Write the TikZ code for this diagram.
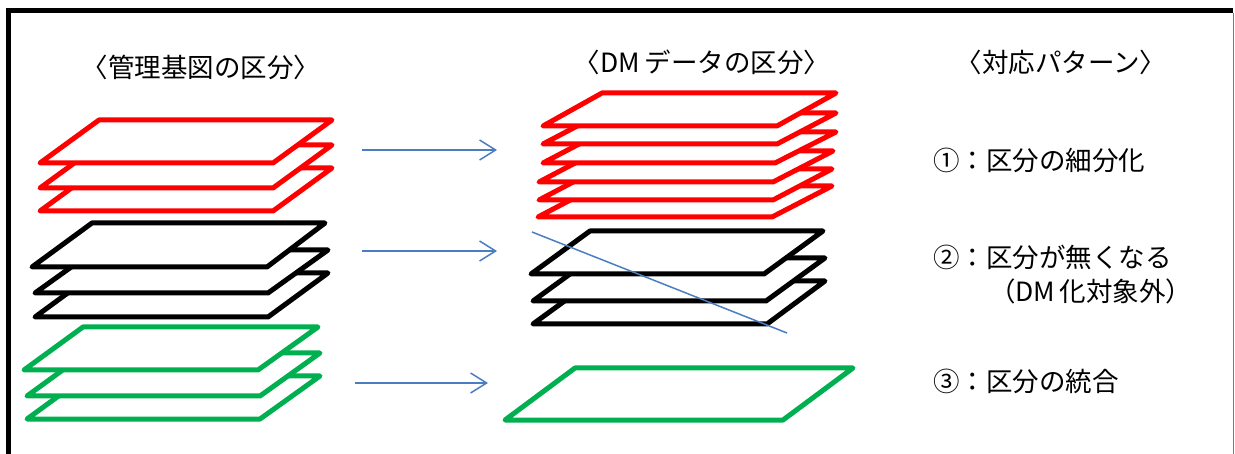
\documentclass[tikz,border=0pt]{standalone}
\usepackage{fontspec}
\setmainfont{Noto Sans CJK JP}
\usetikzlibrary{arrows.meta}
\definecolor{lred}{RGB}{255,0,0}
\definecolor{lgreen}{RGB}{0,176,80}
\definecolor{lblue}{RGB}{74,126,193}
\definecolor{edgegray}{RGB}{120,120,120}
\tikzset{
  layer/.style={line width=5pt, line join=round, fill=white},
  redlayer/.style={layer, draw=lred},
  blacklayer/.style={layer, draw=black},
  greenlayer/.style={layer, draw=lgreen},
  flowarrow/.style={draw=lblue, line width=1.5pt, -{Straight Barb[length=16pt,width=20pt]}},
  crossline/.style={draw=lblue, line width=1.5pt},
  title/.style={font=\fontsize{26.5}{30}\selectfont, inner sep=0pt},
  caption/.style={font=\fontsize{26.5}{30}\selectfont, inner sep=0pt, anchor=west}
}
\begin{document}
\begin{tikzpicture}[x=1pt,y=-1pt]
\useasboundingbox (0,0) rectangle (1235,454);
% frame
\draw[line width=5pt] (6,10.5) -- (1233,10.5);
\draw[line width=5pt] (8.5,8) -- (8.5,454);
\draw[edgegray, line width=1.5pt] (1233.5,13) -- (1233.5,454);

% titles
\node[title] (t1) at (201,67) {〈管理基図の区分〉};
\node[title] (t2) at (702,62) {〈DM\,データの区分〉};
\node[title] (t3) at (1061,62) {〈対応パターン〉};

% left red stack
\draw[redlayer] (99,168) -- (332,168) -- (273,211) -- (40,211) -- cycle;
\draw[redlayer] (99,145) -- (332,145) -- (273,188) -- (40,188) -- cycle;
\draw[redlayer] (99,120) -- (332,120) -- (273,163) -- (40,163) -- cycle;

% left black stack
\draw[blacklayer] (95,273) -- (328,273) -- (268,317) -- (35,317) -- cycle;
\draw[blacklayer] (95,250) -- (328,250) -- (268,293) -- (35,293) -- cycle;
\draw[blacklayer] (92,223) -- (325,223) -- (267,267) -- (32,267) -- cycle;

% left green stack
\draw[greenlayer] (86,376) -- (320,376) -- (260,419) -- (27,419) -- cycle;
\draw[greenlayer] (86,353) -- (320,353) -- (260,396) -- (27,396) -- cycle;
\draw[greenlayer] (83,327) -- (318,327) -- (258,370) -- (24,370) -- cycle;

% middle red stack
\draw[redlayer] (597,186) -- (832,186) -- (772,217) -- (538,217) -- cycle;
\draw[redlayer] (598,169) -- (832,169) -- (773,200) -- (539,200) -- cycle;
\draw[redlayer] (598,151) -- (833,151) -- (773,182) -- (539,182) -- cycle;
\draw[redlayer] (602,132) -- (836,132) -- (775,163) -- (543,163) -- cycle;
\draw[redlayer] (602,113) -- (836,113) -- (777,144) -- (543,144) -- cycle;
\draw[redlayer] (602,93) -- (836,93) -- (777,126) -- (543,126) -- cycle;

% middle black stack
\draw[blacklayer] (592,281) -- (825,281) -- (767,324) -- (533,324) -- cycle;
\draw[blacklayer] (592,258) -- (825,258) -- (766,301) -- (533,301) -- cycle;
\draw[blacklayer] (590,231) -- (823,231) -- (764,274) -- (531,274) -- cycle;

% middle green single
\draw[greenlayer] (575,368) -- (853,368) -- (783,420) -- (505,420) -- cycle;

% cross-out line
\coordinate (x1) at (532,232);
\coordinate (x2) at (787,333);
\draw[crossline] (x1) -- (x2);

% arrows
\coordinate (a1s) at (362,150);
\coordinate (a1e) at (497,150);
\coordinate (a2s) at (362,251);
\coordinate (a2e) at (497,251);
\coordinate (a3s) at (355,383);
\coordinate (a3e) at (488,383);
\draw[flowarrow] (a1s) -- (a1e);
\draw[flowarrow] (a2s) -- (a2e);
\draw[flowarrow] (a3s) -- (a3e);

% captions
\node[caption] (p1) at (933,160) {①：区分の細分化};
\node[caption] (p2) at (933,257) {②：区分が無くなる};
\node[caption] (p2b) at (989,291) {（DM\,化対象外）};
\node[caption] (p3) at (933,381) {③：区分の統合};
\end{tikzpicture}
\end{document}
